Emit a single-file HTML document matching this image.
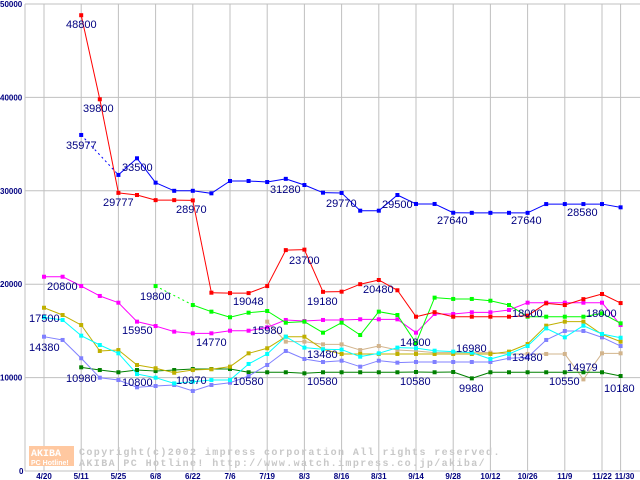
<!DOCTYPE html>
<html><head><meta charset="utf-8"><style>
html,body{margin:0;padding:0;background:#fff;}
svg{display:block;}
</style></head><body>
<svg id="chart" width="640" height="480" xmlns="http://www.w3.org/2000/svg" font-family="Liberation Sans, sans-serif">
<g id="grid"></g>
<g id="watermark">
<rect x="29" y="446" width="45" height="20" fill="#ffc8a0"/>
<text x="31" y="456" font-size="10" font-weight="bold" fill="#fff" font-family="Liberation Mono, monospace">AKIBA</text>
<text x="31" y="465" font-size="7" font-weight="bold" fill="#fff">PC Hotline!</text>
<text x="79" y="455" font-size="10" font-weight="bold" letter-spacing="1.4" fill="#c8c8c8" font-family="Liberation Mono, monospace">Copyright(c)2002 impress corporation All rights reserved.</text>
<text x="79" y="466" font-size="10" font-weight="bold" letter-spacing="1.4" fill="#c8c8c8" font-family="Liberation Mono, monospace">AKIBA PC Hotline!  http://www.watch.impress.co.jp/akiba/</text>
</g>
<g id="series"></g>
<g id="labels"></g>
</svg>
<script>
const xLabels = ["4/20","5/11","5/25","6/8","6/22","7/6","7/19","8/3","8/16","8/31","9/14","9/28","10/12","10/26","11/9","11/22"];
const lastLabel = "11/30";
const yTicks = [0,10000,20000,30000,40000,50000];
const redVals = [null,null,48800,39800,29777,29550,29000,29000,28970,19090,19048,19048,19800,23650,23700,19180,19200,20000,20450,19350,16520,17000,16520,16520,16520,16520,16630,17950,17770,18400,18950,17980];
const blueVals = [null,null,35977,null,31700,33480,30870,30000,30000,29730,31050,31050,30940,31280,30620,29800,29770,27870,27870,29550,28590,28590,27650,27640,27640,27640,27640,28580,28580,28580,28580,28230];
const greenVals = [null,null,null,null,null,null,19800,null,17770,17060,16460,16950,17130,15880,15990,14810,15880,14560,17060,16700,13700,18560,18420,18420,18230,17770,16520,16520,16520,16520,16880,15810];
const magentaVals = [20800,20800,19800,18740,18020,15990,15520,14920,14740,14740,15020,15020,15380,16170,16060,16170,16170,16240,16240,16240,14810,16810,16810,16990,16990,17240,18020,18020,18020,18020,18020,15630];
const oliveVals = [17480,16700,15630,12850,12950,11350,11000,10520,10810,10890,11170,12600,13140,14380,14380,13030,12530,12530,12530,12530,12530,12530,12530,12530,12530,12780,13600,15560,15990,15990,14630,13850];
const cyanVals = [16450,16170,14490,13490,12600,10380,9990,9380,9560,9740,9740,11460,12530,14380,13210,13030,13000,12240,12600,13210,13150,12880,12780,12670,11990,12530,13380,15270,14310,15560,14670,14270];
const periVals = [14380,14030,12070,9990,9740,8960,9100,9210,8570,9210,9450,10170,11350,12850,11990,11670,11810,11170,11810,11600,11670,11670,11670,11670,11670,12070,12170,14030,14990,14990,14310,13380];
const tanVals = [null,null,null,null,null,null,null,null,null,null,null,null,15990,13850,13850,13560,13560,12950,13380,12950,12850,12670,12670,12670,12670,12530,12530,12530,12530,9810,12600,12600];
const dgreenVals = [null,null,11100,10810,10570,10810,10700,10810,10920,10920,10920,10570,10570,10570,10460,10570,10570,10570,10570,10570,10600,10570,10600,9920,10570,10570,10570,10570,10570,10570,10570,10170];
const labelTexts = ["48800","39800","35977","33500","29777","28970","31280","29770","29500","27640","27640","28580","20800","19800","17500","15950","14380","14770","19048","15980","23700","19180","20480","13480","14800","16980","18000","18000","13480","14979","10980","10800","10970","10580","10580","10580","9980","10550","10180"];

const NS="http://www.w3.org/2000/svg";
const X0=44, DX=18.6, Y0=471, YS=467/50000;
function xs(i){return X0+i*DX;}
function ys(v){return Y0-v*YS;}
function mk(tag,attrs,parent){const e=document.createElementNS(NS,tag);for(const k in attrs)e.setAttribute(k,attrs[k]);parent.appendChild(e);return e;}
const grid=document.getElementById('grid');
yTicks.forEach((t,k)=>{
  const l=mk('line',{x1:25,x2:640,y1:ys(t),y2:ys(t),stroke:'#c0c0c0','stroke-width':1},grid);
  
  
  const tx=mk('text',{x:t===0?19:0,y:ys(t)+3,'font-size':8,'font-weight':'bold',fill:'#000080'},grid);
  tx.textContent=String(t);
  
  
});
mk('line',{x1:25,x2:25,y1:4,y2:471,stroke:'#c0c0c0'},grid);
xLabels.forEach((lab,k)=>{
  const x=xs(k*2);
  const l=mk('line',{x1:x,x2:x,y1:4,y2:471,stroke:'#c0c0c0'},grid);
  
  
  const tx=mk('text',{x:x,y:479,'font-size':8,'font-weight':'bold',fill:'#000080','text-anchor':'middle'},grid);
  tx.textContent=lab;
  
  
});
{const x=xs(31);mk('line',{x1:x,x2:x,y1:4,y2:471,stroke:'#c0c0c0'},grid);
const tx=mk('text',{x:x+4,y:479,'font-size':8,'font-weight':'bold',fill:'#000080','text-anchor':'middle'},grid);
tx.textContent=lastLabel;

}

const sg=document.getElementById('series');
function drawSeries(vals,color,name){
  const g=mk('g',{},sg);
  
  
  let prev=-1;
  vals.forEach((v,i)=>{
    if(v===null)return;
    if(prev>=0){
      const gap=i-prev>1;
      const ln=mk('line',{x1:xs(prev),y1:ys(vals[prev]),x2:xs(i),y2:ys(v),stroke:color,'stroke-width':1},g);
      if(gap)ln.setAttribute('stroke-dasharray','2,3');
      
      
    }
    prev=i;
  });
  vals.forEach((v,i)=>{
    if(v===null)return;
    const r=mk('rect',{x:xs(i)-2,y:ys(v)-2,width:4,height:4,fill:color},g);
    
    
  });
}
drawSeries(tanVals,'#d2b48c','tan-series');
drawSeries(dgreenVals,'#008000','dark-green-series');
drawSeries(periVals,'#8080ff','periwinkle-series');
drawSeries(oliveVals,'#c0b000','olive-series');
drawSeries(cyanVals,'#00ffff','cyan-series');
drawSeries(magentaVals,'#ff00ff','magenta-series');
drawSeries(greenVals,'#00ff00','green-series');
drawSeries(redVals,'#ff0000','red-series');
drawSeries(blueVals,'#0000ff','blue-series');

const labelPos=[[66,28],[83,112],[66,149],[122,171],[103,206],[176,213],[270,193],[326,207],[382,208],[437,224],[511,224],[567,216],[47,290],[140,300],[29,322],[122,334],[29,351],[196,346],[233,305],[252,334],[289,264],[307,305],[363,293],[307,358],[400,346],[456,352],[512,317],[586,317],[512,361],[567,371],[66,382],[122,386],[176,384],[233,385],[307,385],[400,385],[459,392],[549,385],[604,392]];
const lg=document.getElementById('labels');
labelTexts.forEach((t,k)=>{
  const tx=mk('text',{x:labelPos[k][0],y:labelPos[k][1],'font-size':11,fill:'#000080'},lg);
  tx.textContent=t;
  
  
});
</script>
</body></html>
